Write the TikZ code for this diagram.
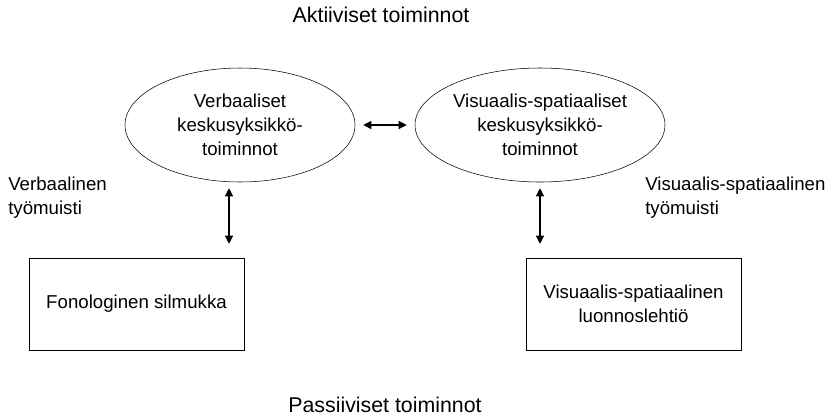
\documentclass[tikz,border=0pt]{standalone}
\usepackage{fontspec}
\setmainfont{Liberation Sans}
\usetikzlibrary{shapes.geometric,arrows.meta}
\begin{document}
\begin{tikzpicture}[x=.75pt,y=-.75pt,font=\fontsize{14}{18}\selectfont,
 oval/.style={draw,ellipse,align=center,inner sep=0pt,minimum height=85.5pt},
 laatikko/.style={draw,align=center,minimum width=161.25pt,minimum height=69pt},
 otsikko/.style={font=\fontsize{16}{19}\selectfont},
 nuoli/.style={{Triangle[length=6pt,width=6pt]}-{Triangle[length=6pt,width=6pt]},thick}]
\useasboundingbox (0,0) rectangle (839,419);
\node[otsikko] (akt) at (381,15) {Aktiiviset toiminnot};
\node[otsikko] (pas) at (385,405) {Passiiviset toiminnot};
\node[oval,minimum width=172.5pt] (ve) at (240,125)
 {Verbaaliset\\keskusyksikkö-\\toiminnot};
\node[oval,minimum width=187.5pt] (vs) at (540,125)
 {Visuaalis-spatiaaliset\\keskusyksikkö-\\toiminnot};
\node[laatikko] (fl) at (136.5,304) {Fonologinen silmukka};
\node[laatikko] (vl) at (633.5,304) {Visuaalis-spatiaalinen\\luonnoslehtiö};
\node[align=left,anchor=west,inner sep=0pt] (vt) at (8,198) {Verbaalinen\\työmuisti};
\node[align=left,anchor=west,inner sep=0pt] (vst) at (645,198)
 {Visuaalis-spatiaalinen\\työmuisti};
\draw[nuoli,shorten <=6pt,shorten >=6pt] (ve.east) -- (vs.west);
\draw[nuoli,shorten <=4.5pt,shorten >=10.5pt] ([xshift=-8.25pt]ve.south) --
 ([xshift=-8.25pt]ve.south |- fl.north);
\draw[nuoli,shorten <=4.5pt,shorten >=10.5pt] (vs.south) -- (vs.south |- vl.north);
%\draw (0,0) grid[step=50] (839,419);
\end{tikzpicture}
\end{document}
